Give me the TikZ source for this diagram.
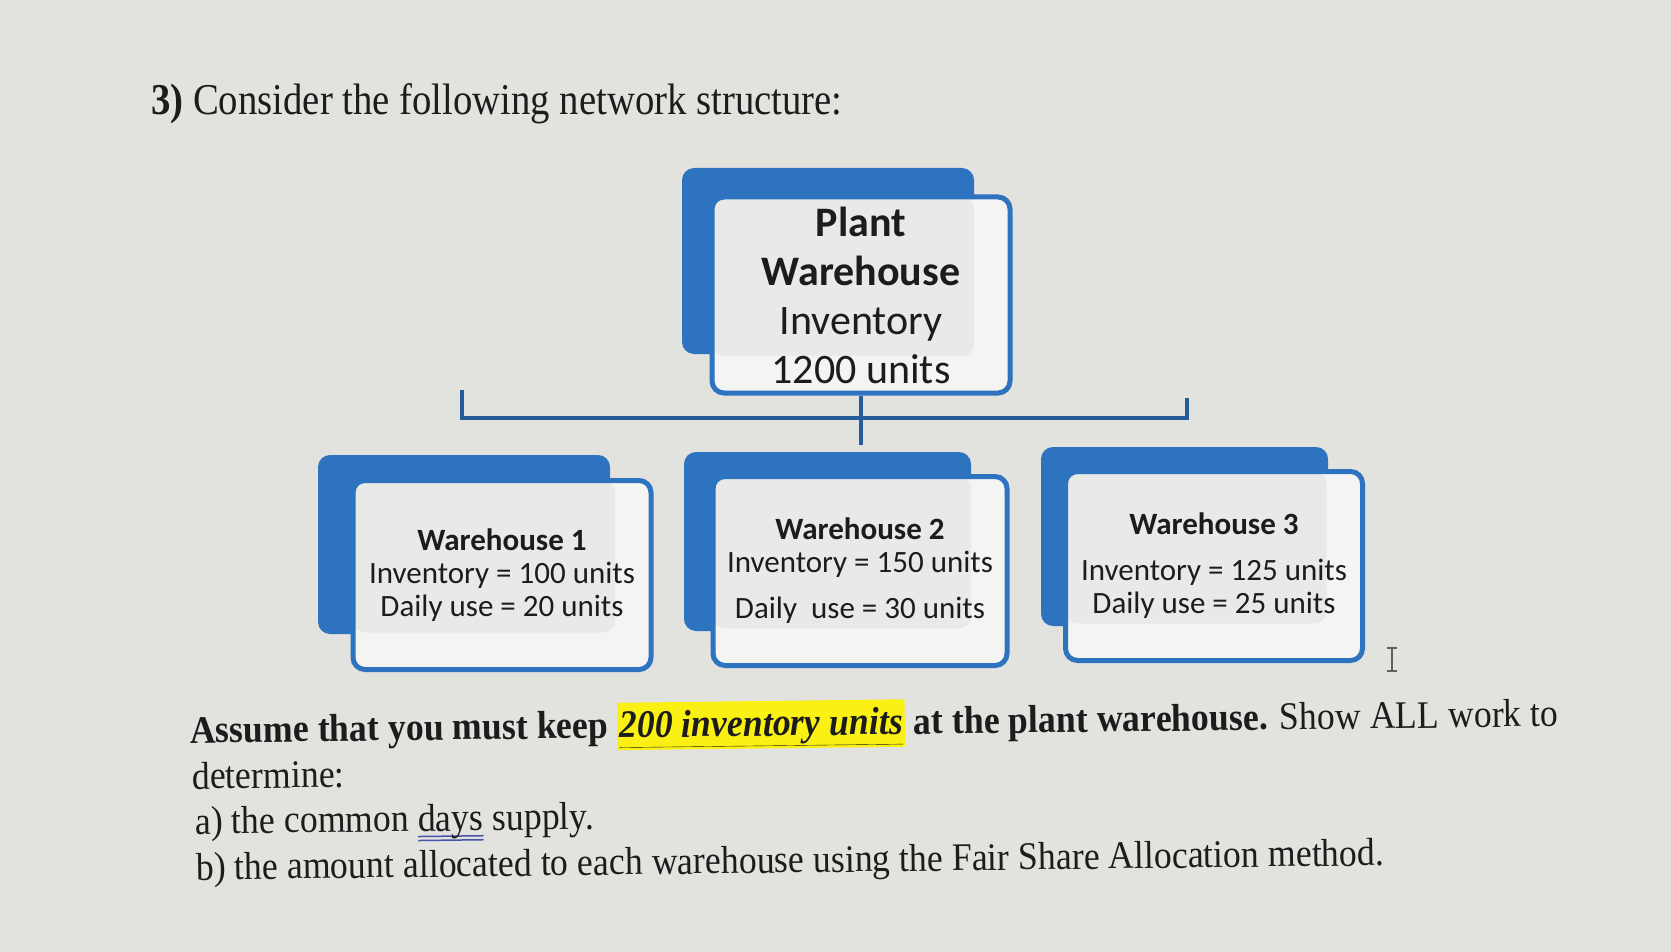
\documentclass[tikz,border=0pt]{standalone}
\usepackage{fontspec}
\setmainfont{Liberation Serif}[FakeStretch=0.915]
\newfontfamily\titleserif{Liberation Serif}[FakeStretch=0.88]
\newfontfamily\calibri{Carlito}

\definecolor{paper}{RGB}{226,226,223}
\definecolor{boxblue}{RGB}{46,115,192}
\definecolor{front}{RGB}{244,244,243}
\definecolor{inner}{RGB}{233,233,232}
\definecolor{ink}{RGB}{28,28,28}
\definecolor{hlyellow}{RGB}{250,240,20}
\definecolor{ulblue}{RGB}{70,82,170}

\newlength\dblwd
\newcommand\dblunder[1]{\settowidth{\dblwd}{#1}%
  \rlap{\color{ulblue}\rule[-6pt]{\dblwd}{1.5pt}}%
  \rlap{\color{ulblue}\rule[-10pt]{\dblwd}{1.5pt}}#1}

\tikzset{
  backbox/.style={fill=boxblue, rounded corners=12},
  frontbox/.style={draw=boxblue, line width=5, rounded corners=12, fill=front,
    minimum width=298, minimum height=189, inner sep=0, align=center, text=ink,
    font=\calibri\fontsize{31}{33}\selectfont,
    path picture={\fill [inner] (path picture bounding box.north west)
      rectangle ([shift={(-36,-37)}]path picture bounding box.south east);}},
  bus/.style={draw=boxblue!80!black, line width=4},
  paper text/.style={anchor=base west, inner sep=0, text=ink,
    font=\fontsize{39}{46}\selectfont, rotate=0.7},
}

\begin{document}
\begin{tikzpicture}[x=1pt, y=-1pt]

\fill [paper] (0,0) rectangle (1671,952);
\useasboundingbox (0,0) rectangle (1671,952);

\node [anchor=base west, inner sep=0, text=ink, font=\titleserif\fontsize{44}{50}\selectfont] (title) at (151,115)
  {\textbf{3)} Consider the following network structure:};

%% Plant warehouse
\fill [backbox] (682,168) rectangle (974,354);
\node [frontbox, minimum height=196, font=\calibri\fontsize{42}{49}\selectfont] (plant) at (861,295)
  {\textbf{Plant}\\ \textbf{Warehouse}\\ Inventory\\ 1200 units};

%% Warehouse 1
\fill [backbox] (318,455) rectangle (610,634);
\node [frontbox] (wh1) at (502,575)
  {\textbf{Warehouse 1}\\ Inventory = 100 units\\ Daily use = 20 units};

%% Warehouse 2
\fill [backbox] (684,452) rectangle (971,631);
\node [frontbox, minimum width=294] (wh2) at (860,571)
  {\textbf{Warehouse 2}\\ Inventory = 150 units\\[13pt] Daily~ use = 30 units};

%% Warehouse 3
\fill [backbox] (1041,447) rectangle (1328,626);
\node [frontbox, minimum width=297] (wh3) at (1214,566)
  {\textbf{Warehouse 3}\\[13pt] Inventory = 125 units\\ Daily use = 25 units};

%% Bus from the plant to the warehouses
\coordinate (busleft) at (462,418);
\coordinate (busright) at (1187,418);
\draw [bus] (plant.south) -- ++(0,49);
\draw [bus] ([yshift=28]busleft) -- (busleft) -- (busright) -- ([yshift=20]busright);

%% Text cursor
\draw [ink!70, line width=2] (1387,648) -- (1397,648) (1392,648) -- (1392,671) (1387,671) -- (1397,671);

%% Question
\setlength{\fboxsep}{2pt}
\node [paper text] (assume) at (190,743)
  {\textbf{Assume that you must keep} \colorbox{hlyellow}{\rule[-4pt]{0pt}{37pt}\textbf{\textit{\underline{200 inventory units}}}} \textbf{at the plant warehouse.} Show ALL work to};
\node [paper text] (determine) at (192,789) {determine:};
\node [paper text] (parta) at (195,834)
  {a) the common \dblunder{days} supply.};
\node [paper text] (partb) at (196,880)
  {b) the amount allocated to each warehouse using the Fair Share Allocation method.};

\end{tikzpicture}
\end{document}
